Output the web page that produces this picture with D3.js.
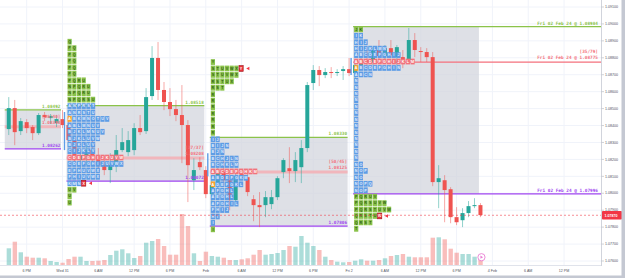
<!DOCTYPE html>
<html>
<head>
<meta charset="utf-8">
<script src="https://cdn.jsdelivr.net/npm/d3@7"></script>
<style>
  html, body { margin: 0; padding: 0; background: #ffffff; }
  svg { display: block; font-family: "Liberation Sans", Arial, sans-serif; }
</style>
</head>
<body>
<div id="chart"></div>
<script>
// ---- data ----
const firstBar = -9; // hourly bars, 0 = Wed 31 00:00
const opens = [1.08379,1.08503,1.08367,1.08420,1.08391,1.08355,1.08462,1.08444,1.08414,
  1.08438,1.08403,1.08314,1.08196,1.08225,1.08255,1.08196,1.08166,1.08137,1.08166,
  1.08255,1.08243,1.08255,1.08385,1.08367,1.08574,1.08799,1.08610,1.08539,1.08497,
  1.08462,1.08403,1.08077,1.08184,1.08137,
  1.07995,1.08048,1.08125,1.08077,1.07960,1.08113,1.08095,1.07965,1.07930,1.07930,
  1.07936,1.07977,1.08125,1.08148,1.08131,1.08154,1.08267,1.08651,1.08728,1.08698,
  1.08716,1.08710,1.08722,
  1.08733,1.08710,1.08757,1.08787,1.08775,1.08846,1.08810,1.08857,1.08804,1.08804,
  1.08787,1.08905,1.08840,1.08834,1.08804,1.08066,1.08077,1.08024,1.07859,1.07841,
  1.07883,1.07924,1.07930];
const highs = [1.08568,1.08551,1.08444,1.08438,1.08403,1.08474,1.08480,1.08468,1.08462,
  1.08491,1.08480,1.08326,1.08255,1.08284,1.08314,1.08267,1.08225,1.08237,1.08344,
  1.08385,1.08367,1.08414,1.08462,1.08621,1.08869,1.08893,1.08657,1.08621,1.08551,
  1.08639,1.08432,1.08207,1.08213,1.08160,
  1.08077,1.08148,1.08196,1.08137,1.08125,1.08137,1.08125,1.07989,1.08007,1.08013,
  1.08019,1.08101,1.08207,1.08272,1.08243,1.08314,1.08657,1.08757,1.08751,1.08739,
  1.08745,1.08733,1.08751,
  1.08799,1.08775,1.08816,1.08846,1.08863,1.08905,1.08875,1.08905,1.08875,1.08846,
  1.08976,1.08946,1.08863,1.08857,1.08834,1.08166,1.08107,1.08036,1.07918,1.07912,
  1.07954,1.07971,1.07942];
const lows = [1.08344,1.08284,1.08344,1.08355,1.08314,1.08344,1.08426,1.08409,1.08391,
  1.08385,1.08284,1.08166,1.08137,1.08166,1.08160,1.08125,1.08107,1.08060,1.08125,
  1.08243,1.08219,1.08225,1.08344,1.08350,1.08551,1.08551,1.08491,1.08456,1.08426,
  1.08178,1.07948,1.08019,1.08137,1.07971,
  1.07930,1.07983,1.08048,1.07900,1.07930,1.08077,1.07983,1.07835,1.07800,1.07859,
  1.07906,1.07960,1.08089,1.08060,1.08066,1.08060,1.08243,1.08610,1.08633,1.08680,
  1.08680,1.08692,1.08669,
  1.08692,1.08680,1.08728,1.08751,1.08757,1.08787,1.08775,1.08799,1.08757,1.08739,
  1.08769,1.08804,1.08775,1.08775,1.08042,1.07912,1.07829,1.07823,1.07812,1.07800,
  1.07859,1.07912,1.07859];
const closes = [1.08503,1.08361,1.08426,1.08385,1.08355,1.08462,1.08450,1.08456,1.08438,
  1.08403,1.08314,1.08196,1.08225,1.08255,1.08196,1.08166,1.08137,1.08166,1.08255,
  1.08302,1.08314,1.08385,1.08361,1.08568,1.08799,1.08610,1.08539,1.08497,1.08462,
  1.08403,1.08166,1.08137,1.08154,1.07995,
  1.08048,1.08125,1.08077,1.07960,1.08101,1.08101,1.08007,1.07930,1.07918,1.07977,
  1.07977,1.08089,1.08196,1.08131,1.08196,1.08267,1.08639,1.08728,1.08698,1.08716,
  1.08710,1.08716,1.08733,
  1.08710,1.08757,1.08787,1.08775,1.08846,1.08810,1.08857,1.08816,1.08863,1.08787,
  1.08905,1.08846,1.08834,1.08804,1.08066,1.08089,1.08019,1.07859,1.07829,1.07883,
  1.07924,1.07930,1.07871];
const volumes = [1670,2330,1270,830,730,730,670,400,300,
  230,600,830,830,400,400,430,500,1000,1430,
  1570,1170,700,900,2230,2400,2600,1900,1030,1030,
  5100,3900,1170,400,1330,
  900,830,730,500,500,570,670,1030,1500,1030,
  1100,1200,1500,1900,1830,2900,2230,1900,1500,830,
  500,330,270,
  300,430,570,430,430,500,670,900,1000,1100,
  830,770,770,770,2730,2770,2570,1630,1230,1100,
  1100,830,730];

const timeTicks = [-6, 0, 6, 12, 18, 24, 30, 36, 42, 48, 54, 60, 66, 72, 78, 84];
const timeLabels = ["6 PM", "Wed 31", "6 AM", "12 PM", "6 PM", "Feb", "6 AM", "12 PM", "6 PM",
  "Fri 2", "6 AM", "12 PM", "6 PM", "4 Feb", "6 AM", "12 PM"];
const priceTicks = [1.076, 1.077, 1.078, 1.079, 1.080, 1.081, 1.082, 1.083, 1.084,
  1.085, 1.086, 1.087, 1.088, 1.089, 1.090, 1.091];

// TPO sessions
const sessionStart = [-24, 0, 24, 48];
const sessionEnd = [0, 24, 48, 70];
const vahValues = [1.08492, 1.08518, 1.08330, 1.08984];
const pocValues = [1.08393, 1.08208, 1.08125, 1.08775];
const valValues = [1.08262, 1.08072, 1.07806, 1.07996];
const pocCounts = ["[28/40]", "[37/37]", "[50/45]", "[35/79]"];
const ibHigh = [null, 1.08480, 1.08237, 1.08799];
const ibLow = [null, 1.08255, 1.08101, 1.08698];

const jan31Rows = ["Q","PQ","PQ","PQ","PQ","PQ","PQRU","NPQRU","NPQRU","NPQRSU",
  "ANPRST","ANRSTU","ABKMNOTUV","ABLMNUV","BJKLMNUV","BJKLUVW","BJKLUV","CIJKLV",
  "CDEFGHIJKUVW","CDEFGHIJUVWX","EFHUVWX","FHIUVWX","KMNX","UV","U","U"];
const feb1Rows = ["Y","STUVWXY","STUVWX","RSTUX","RST","R","R","R","R","R","R","R",
  "IJ","BIJN","BJN","BCHJLN","BCHKLM","ABCDEFGHKM","ABDEFGKM","ADEFGKL","AFGHL","AEGHL",
  "AFGHIL","FHIJ","HI","I","I"];
const feb2Rows = ["JK","IK","HIJ","HIJKLMN","ABCDEFGHIJ","ABCDEFGHIJKLM","ABCDEFGHIN","ABCN",
  "N","N","N","N","N","N","N","N","N","N","N","N","N",
  "NO","NOP","NO","NOPQ","NOP","PQRUV","PQRSUVW","PQRSTUVW","QRSTUW","QRST","T"];

const profileTop = [1.08895, 1.08775, 1.08968];
const profileVA = [[10, 22], [12, 25], [1, 25]];
const profilePoc = [18, 17, 5];
const profileOpen = [12, 19, 6];
const profileClose = [[22, 3], [1, 6], [29, 5]];
const rowStep = 0.00038;
const lastPrice = 1.07870;

// ---- setup ----
const W = 625, H = 278;
const plotRight = 601, plotBottom = 266;
const x = d3.scaleLinear().domain([0, 24]).range([62.5, 205.8]);
const y = d3.scaleLinear().domain([1.076, 1.091]).range([261, 7]);
const yVol = d3.scaleLinear().domain([0, 10000]).range([265, 165]);

const upColor = '#26a69a', downColor = '#ef5350';
const bars = opens.map((o, k) => ({
  i: firstBar + k, o, h: highs[k], l: lows[k], c: closes[k], v: volumes[k]
}));

const svg = d3.select('#chart').append('svg')
  .attr('width', W).attr('height', H);

svg.append('defs').append('clipPath').attr('id', 'plot')
  .append('rect').attr('x', 0).attr('y', 0).attr('width', plotRight).attr('height', plotBottom);

const plot = svg.append('g').attr('clip-path', 'url(#plot)');

// grid
plot.append('g').selectAll('line').data(timeTicks).join('line')
  .attr('x1', d => x(d)).attr('x2', d => x(d))
  .attr('y1', 0).attr('y2', plotBottom)
  .attr('stroke', '#f0f3fa').attr('stroke-width', 1);
plot.append('g').selectAll('line').data(priceTicks).join('line')
  .attr('x1', 0).attr('x2', plotRight)
  .attr('y1', d => y(d)).attr('y2', d => y(d))
  .attr('stroke', '#f0f3fa').attr('stroke-width', 1);

// volume
plot.append('g').selectAll('rect').data(bars).join('rect')
  .attr('x', d => x(d.i) - 2.1).attr('width', 4.4)
  .attr('y', d => yVol(d.v)).attr('height', d => yVol(0) - yVol(d.v))
  .attr('fill', d => d.c >= d.o ? 'rgba(38,166,154,0.38)' : 'rgba(239,83,80,0.38)');

// sessions: value-area boxes and levels
const sessions = sessionStart.map((s, k) => {
  const left = Math.max(x(s) + 4, x(firstBar) - 4);
  const right = k === 3 ? x(sessionEnd[k]) - 1.5 : x(sessionEnd[k]) - 1.5;
  return { k, left, right, lineRight: k === 3 ? plotRight : right,
    vah: vahValues[k], val: valValues[k], poc: pocValues[k] };
});

plot.append('g').selectAll('rect').data(sessions).join('rect')
  .attr('x', d => d.left).attr('width', d => d.right - d.left)
  .attr('y', d => y(d.vah)).attr('height', d => y(d.val) - y(d.vah))
  .attr('fill', '#d1d4dc').attr('fill-opacity', 0.72);

const levels = plot.append('g');
sessions.forEach(d => {
  levels.append('line')
    .attr('x1', d.left).attr('x2', d.lineRight)
    .attr('y1', y(d.poc)).attr('y2', y(d.poc))
    .attr('stroke', d.k === 3 ? '#f4717c' : '#f7a8ad')
    .attr('stroke-width', d.k === 3 ? 1.2 : 3)
    .attr('stroke-opacity', d.k === 3 ? 1 : 0.75);
  levels.append('line')
    .attr('x1', d.left).attr('x2', d.lineRight)
    .attr('y1', y(d.vah)).attr('y2', y(d.vah))
    .attr('stroke', '#8bc34a').attr('stroke-width', 1.3);
  levels.append('line')
    .attr('x1', d.left).attr('x2', d.lineRight)
    .attr('y1', y(d.val)).attr('y2', y(d.val))
    .attr('stroke', '#a046f0').attr('stroke-width', 1.3);
});

// candles
const candles = plot.append('g').selectAll('g').data(bars).join('g');
candles.append('line')
  .attr('x1', d => x(d.i)).attr('x2', d => x(d.i))
  .attr('y1', d => y(d.h)).attr('y2', d => y(d.l))
  .attr('stroke', d => d.c >= d.o ? upColor : downColor)
  .attr('stroke-opacity', 0.5).attr('stroke-width', 1);
candles.append('rect')
  .attr('x', d => x(d.i) - 2).attr('width', 4)
  .attr('y', d => y(Math.max(d.o, d.c)))
  .attr('height', d => Math.max(1, Math.abs(y(d.o) - y(d.c))))
  .attr('fill', d => d.c >= d.o ? upColor : downColor);

// TPO profiles
const profiles = [jan31Rows, feb1Rows, feb2Rows];
const cellW = 4.7;
const rowPx = y(0) - y(rowStep);
const tpo = plot.append('g');
profiles.forEach((rows, p) => {
  const k = p + 1;
  const x0 = x(sessionStart[k]) + 5;
  // initial balance bar
  tpo.append('line')
    .attr('x1', x0 - 3).attr('x2', x0 - 3)
    .attr('y1', y(ibHigh[k])).attr('y2', y(ibLow[k]))
    .attr('stroke', '#5e9de6').attr('stroke-width', 1.4);
  rows.forEach((letters, r) => {
    const price = profileTop[p] - r * rowStep;
    const cy = y(price);
    const inVA = r >= profileVA[p][0] && r <= profileVA[p][1];
    const isPoc = r === profilePoc[p];
    letters.split('').forEach((ch, c) => {
      let fill = inVA ? '#5e9de6' : '#8ac24a';
      let txt = inVA ? '#e3eefc' : '#2f5e14';
      if (isPoc) { fill = '#f2737c'; txt = '#ffffff'; }
      let stroke = 'none';
      if (r === profileOpen[p] && c === 0) { fill = '#f6a531'; txt = '#ffffff'; }
      const isClose = r === profileClose[p][0] && c === profileClose[p][1];
      if (isClose) { fill = '#e8333c'; stroke = '#9e1219'; txt = '#ffffff'; }
      const cx = x0 + c * cellW;
      tpo.append('rect')
        .attr('x', cx).attr('y', cy - rowPx / 2 + 0.35)
        .attr('width', cellW - 0.5).attr('height', rowPx - 0.7)
        .attr('fill', fill).attr('stroke', stroke).attr('stroke-width', 0.6);
      tpo.append('text')
        .attr('x', cx + (cellW - 0.5) / 2).attr('y', cy + 1.3)
        .attr('text-anchor', 'middle')
        .attr('font-size', 3.7).attr('font-weight', 'bold')
        .attr('fill', txt).text(ch);
      if (isClose) {
        const ax = cx + cellW + 2.5;
        tpo.append('path')
          .attr('d', `M${ax + 3.2},${cy - 1.8}L${ax},${cy}L${ax + 3.2},${cy + 1.8}Z`)
          .attr('fill', '#f23645');
      }
    });
  });
});

// level labels
const labels = plot.append('g')
  .attr('font-family', '"DejaVu Sans Mono", "Liberation Mono", monospace')
  .attr('font-size', 4.4).attr('font-weight', 'bold').attr('text-anchor', 'end');
const fmt = d3.format('.5f');
sessions.forEach(d => {
  const lx = d.k === 3 ? 598 : d.right - 0.5;
  const prefix = d.k === 3 ? 'Fri 02 Feb 24 @ ' : '';
  labels.append('text').attr('x', lx).attr('y', y(d.vah) - 2)
    .attr('fill', '#8bc34a').text(prefix + fmt(d.vah));
  labels.append('text').attr('x', lx).attr('y', y(d.val) - 2)
    .attr('fill', '#a046f0').text(prefix + fmt(d.val));
  labels.append('text').attr('x', lx).attr('y', y(d.poc) - 3)
    .attr('fill', '#f4717c').text(prefix + fmt(d.poc));
  labels.append('text').attr('x', lx).attr('y', y(d.poc) - 9)
    .attr('fill', '#f4717c').text(pocCounts[d.k]);
});

// last price line
plot.append('line')
  .attr('x1', 0).attr('x2', plotRight)
  .attr('y1', y(lastPrice)).attr('y2', y(lastPrice))
  .attr('stroke', '#f23645').attr('stroke-opacity', 0.7)
  .attr('stroke-width', 0.8).attr('stroke-dasharray', '2,2');

// event marker
const lastBar = bars[bars.length - 1];
const marker = plot.append('g')
  .attr('transform', `translate(${x(lastBar.i) + 1},${yVol(lastBar.v) - 0.5})`);
marker.append('circle').attr('r', 3.6).attr('fill', '#fff')
  .attr('stroke', '#ea7fd4').attr('stroke-width', 0.9);
marker.append('path').attr('d', 'M-1,-1.6L1.6,0L-1,1.6Z').attr('fill', '#ea7fd4');

// axes
svg.append('line').attr('x1', plotRight + 0.5).attr('x2', plotRight + 0.5)
  .attr('y1', 0).attr('y2', plotBottom).attr('stroke', '#d1d4dc').attr('stroke-width', 1);
svg.append('line').attr('x1', 0).attr('x2', plotRight)
  .attr('y1', plotBottom - 0.5).attr('y2', plotBottom - 0.5)
  .attr('stroke', '#e0e3eb').attr('stroke-width', 1);

const yAxis = svg.append('g');
yAxis.selectAll('line').data(priceTicks).join('line')
  .attr('x1', plotRight + 0.5).attr('x2', plotRight + 3)
  .attr('y1', d => y(d)).attr('y2', d => y(d))
  .attr('stroke', '#b2b5be').attr('stroke-width', 0.6);
yAxis.selectAll('text').data(priceTicks).join('text')
  .attr('x', 605).attr('y', d => y(d) + 1.2)
  .attr('font-size', 3.6).attr('fill', '#50535e')
  .text(d => d3.format('.5f')(d));

const xAxis = svg.append('g');
xAxis.selectAll('text').data(timeTicks).join('text')
  .attr('x', d => x(d)).attr('y', 272)
  .attr('text-anchor', 'middle').attr('font-size', 3.6).attr('fill', '#50535e')
  .text((d, k) => timeLabels[k]);

// last price tag
svg.append('rect').attr('x', plotRight + 1).attr('y', y(lastPrice) - 4.3)
  .attr('width', 20).attr('height', 8.6).attr('fill', '#f23645').attr('rx', 0.8);
svg.append('text').attr('x', 604.5).attr('y', y(lastPrice) + 1.3)
  .attr('font-size', 3.6).attr('fill', '#ffffff').attr('font-weight', 'bold')
  .text(fmt(lastPrice));

// frame bars
svg.append('rect').attr('x', 621.5).attr('y', 0).attr('width', 3.5).attr('height', H)
  .attr('fill', '#c4c8d2');
svg.append('rect').attr('x', 0).attr('y', 275.5).attr('width', W).attr('height', 2.5)
  .attr('fill', '#c4c8d2');
</script>
</body>
</html>
